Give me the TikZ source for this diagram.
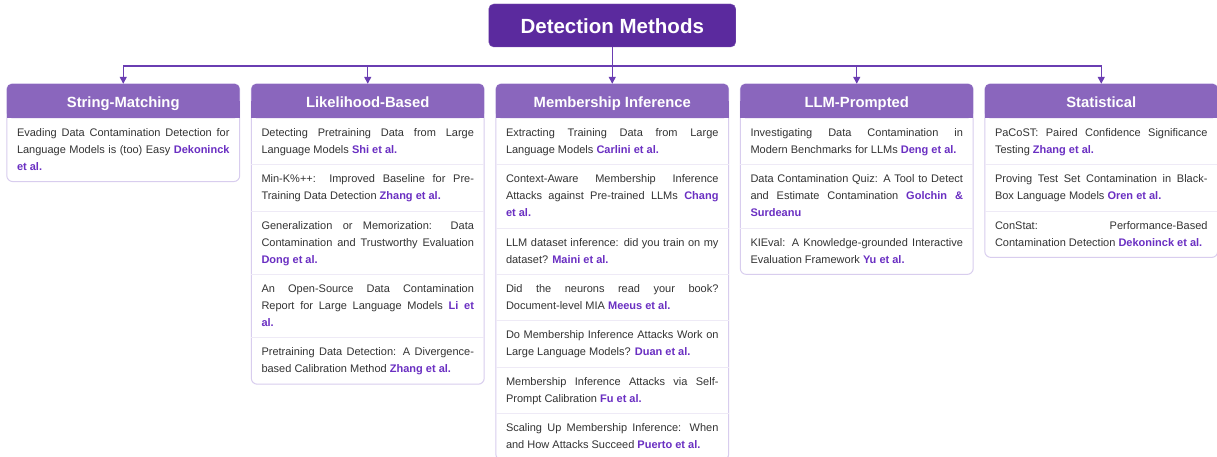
\documentclass[tikz,border=0pt]{standalone}
\usepackage{fontspec}
\setmainfont{Liberation Sans}
\usetikzlibrary{positioning,arrows.meta,backgrounds}

\definecolor{rootpurple}{HTML}{5B2A9E}
\definecolor{headpurple}{HTML}{8A66BD}
\definecolor{linepurple}{HTML}{6A3DB2}
\definecolor{namepurple}{HTML}{6A2FC2}
\definecolor{framepurple}{HTML}{D8CDEE}
\definecolor{seppurple}{HTML}{EEEAF6}
\definecolor{textgray}{HTML}{333333}

\newcommand\paperfont{\fontsize{11}{17}\selectfont\hyphenpenalty=10000\tolerance=10000\hbadness=10000}
\newcommand\authors[1]{\textbf{\color{namepurple}#1}\strut}

\begin{document}
\begin{tikzpicture}[x=1pt,y=1pt,
  root/.style={fill=rootpurple, draw=rootpurple!80!white, rounded corners=5pt, text=white,
    font=\bfseries\fontsize{20.5}{24}\selectfont, text height=17pt, text depth=1pt,
    minimum width=247pt, minimum height=43pt, inner sep=0pt},
  head/.style={text=white, font=\bfseries\fontsize{14.8}{17}\selectfont, text height=14pt, text depth=1pt,
    minimum width=232.5pt, minimum height=34pt, inner sep=0pt},
  entry/.style={below=0pt of #1, text width=212.5pt, inner xsep=10pt, inner ysep=6pt,
    align=justify, font=\paperfont, text=textgray, execute at begin node=\strut},
  conn/.style={draw=linepurple, line width=1.4pt, -{Triangle[length=7pt,width=7pt]}},
  frame/.style={draw=framepurple, line width=1pt, rounded corners=6pt, fill=white},
  sep/.style={draw=seppurple, line width=1pt}]
  \useasboundingbox (0,0) rectangle (1217,-457);

  % Dibuja la raiz y las cinco categorias
  \node[root] (root) at (612.25,-25.5) {Detection Methods};
  \node[head] (sm) at (123.25,-101) {String-Matching};
  \node[head] (lb) at (367.75,-101) {Likelihood-Based};
  \node[head] (mi) at (612.25,-101) {Membership Inference};
  \node[head] (lp) at (856.75,-101) {LLM-Prompted};
  \node[head] (st) at (1101.25,-101) {Statistical};

  % Dibuja las flechas desde la raiz
  \draw[conn] (root.south) -- ++(0,-19) -| (sm.north);
  \draw[conn] (root.south) -- ++(0,-19) -| (lb.north);
  \draw[conn] (root.south) -- (mi.north);
  \draw[conn] (root.south) -- ++(0,-19) -| (lp.north);
  \draw[conn] (root.south) -- ++(0,-19) -| (st.north);

  % String-Matching
  \node[entry=sm] (sm1) {Evading Data Contamination Detection for\linebreak Language Models is (too) Easy \authors{Dekoninck\linebreak et al.}};

  % Likelihood-Based
  \node[entry=lb] (lb1) {Detecting Pretraining Data from Large\linebreak Language Models \authors{Shi et al.}};
  \node[entry=lb1] (lb2) {Min-K\%++: Improved Baseline for Pre-\linebreak Training Data Detection \authors{Zhang et al.}};
  \node[entry=lb2] (lb3) {Generalization or Memorization: Data\linebreak Contamination and Trustworthy Evaluation\linebreak \authors{Dong et al.}};
  \node[entry=lb3] (lb4) {An Open-Source Data Contamination\linebreak Report for Large Language Models \authors{Li et\linebreak al.}};
  \node[entry=lb4] (lb5) {Pretraining Data Detection: A Divergence-\linebreak based Calibration Method \authors{Zhang et al.}};

  % Membership Inference
  \node[entry=mi] (mi1) {Extracting Training Data from Large\linebreak Language Models \authors{Carlini et al.}};
  \node[entry=mi1] (mi2) {Context-Aware Membership Inference\linebreak Attacks against Pre-trained LLMs \authors{Chang\linebreak et al.}};
  \node[entry=mi2] (mi3) {LLM dataset inference: did you train on my\linebreak dataset? \authors{Maini et al.}};
  \node[entry=mi3] (mi4) {Did the neurons read your book?\linebreak Document-level MIA \authors{Meeus et al.}};
  \node[entry=mi4] (mi5) {Do Membership Inference Attacks Work on\linebreak Large Language Models? \authors{Duan et al.}};
  \node[entry=mi5] (mi6) {Membership Inference Attacks via Self-\linebreak Prompt Calibration \authors{Fu et al.}};
  \node[entry=mi6] (mi7) {Scaling Up Membership Inference: When\linebreak and How Attacks Succeed \authors{Puerto et al.}};

  % LLM-Prompted
  \node[entry=lp] (lp1) {Investigating Data Contamination in\linebreak Modern Benchmarks for LLMs \authors{Deng et al.}};
  \node[entry=lp1] (lp2) {Data Contamination Quiz: A Tool to Detect\linebreak and Estimate Contamination \authors{Golchin \&\linebreak Surdeanu}};
  \node[entry=lp2] (lp3) {KIEval: A Knowledge-grounded Interactive\linebreak Evaluation Framework \authors{Yu et al.}};

  % Statistical
  \node[entry=st] (st1) {PaCoST: Paired Confidence Significance\linebreak Testing \authors{Zhang et al.}};
  \node[entry=st1] (st2) {Proving Test Set Contamination in Black-\linebreak Box Language Models \authors{Oren et al.}};
  \node[entry=st2] (st3) {ConStat: Performance-Based\linebreak Contamination Detection \authors{Dekoninck et al.}};

  % Lineas separadoras
  \draw[sep] (lb1.south west) -- (lb1.south east);
  \draw[sep] (lb2.south west) -- (lb2.south east);
  \draw[sep] (lb3.south west) -- (lb3.south east);
  \draw[sep] (lb4.south west) -- (lb4.south east);
  \draw[sep] (mi1.south west) -- (mi1.south east);
  \draw[sep] (mi2.south west) -- (mi2.south east);
  \draw[sep] (mi3.south west) -- (mi3.south east);
  \draw[sep] (mi4.south west) -- (mi4.south east);
  \draw[sep] (mi5.south west) -- (mi5.south east);
  \draw[sep] (mi6.south west) -- (mi6.south east);
  \draw[sep] (lp1.south west) -- (lp1.south east);
  \draw[sep] (lp2.south west) -- (lp2.south east);
  \draw[sep] (st1.south west) -- (st1.south east);
  \draw[sep] (st2.south west) -- (st2.south east);

  % Marcos y cabeceras al fondo
  \begin{scope}[on background layer]
    \fill[white] (0,0) rectangle (1217,-457);
    \draw[frame] (sm.north west) rectangle (sm1.south east);
    \draw[frame] (lb.north west) rectangle (lb5.south east);
    \draw[frame] (mi.north west) rectangle (mi7.south east);
    \draw[frame] (lp.north west) rectangle (lp3.south east);
    \draw[frame] (st.north west) rectangle (st3.south east);
    \fill[headpurple, rounded corners=5pt] (sm.south west) rectangle (sm.north east);
    \fill[headpurple] (sm.west) rectangle (sm.south east);
    \fill[headpurple, rounded corners=5pt] (lb.south west) rectangle (lb.north east);
    \fill[headpurple] (lb.west) rectangle (lb.south east);
    \fill[headpurple, rounded corners=5pt] (mi.south west) rectangle (mi.north east);
    \fill[headpurple] (mi.west) rectangle (mi.south east);
    \fill[headpurple, rounded corners=5pt] (lp.south west) rectangle (lp.north east);
    \fill[headpurple] (lp.west) rectangle (lp.south east);
    \fill[headpurple, rounded corners=5pt] (st.south west) rectangle (st.north east);
    \fill[headpurple] (st.west) rectangle (st.south east);
  \end{scope}
\end{tikzpicture}
\end{document}
